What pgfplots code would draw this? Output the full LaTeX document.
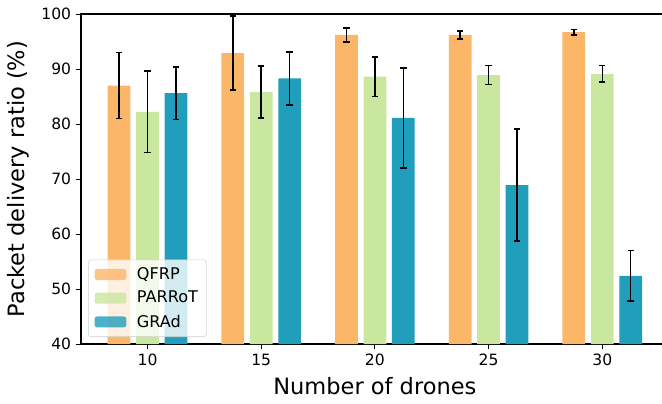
\documentclass[border=0pt]{standalone}
\usepackage{fontspec}
\setmainfont{DejaVu Sans}
\usepackage{pgfplots}
\usepackage{pgfplotstable}
\pgfplotsset{compat=1.18}
\definecolor{cQ}{RGB}{252,182,104}
\definecolor{cP}{RGB}{202,231,159}
\definecolor{cG}{RGB}{33,158,188}
\pgfplotstableread{
x y e
10 87.0 6.0
15 92.9 6.7
20 96.2 1.3
25 96.2 0.7
30 96.7 0.5
}\qfrp
\pgfplotstableread{
x y e
10 82.2 7.4
15 85.8 4.7
20 88.6 3.6
25 88.9 1.7
30 89.1 1.5
}\parrot
\pgfplotstableread{
x y e
10 85.6 4.8
15 88.3 4.8
20 81.1 9.1
25 68.9 10.2
30 52.4 4.6
}\grad
\begin{document}
\begin{tikzpicture}
\begin{axis}[
  scale only axis, width=423.2pt, height=237.6pt,
  xmin=7.075, xmax=32.925, ymin=40, ymax=100,
  xtick={10,15,20,25,30}, ytick={40,50,...,100},
  tick align=outside, xtick pos=left, ytick pos=left,
  major tick length=3.6pt, tick style={line width=0.6pt, black},
  axis line style={line width=0.8pt},
  ticklabel style={font=\fontsize{11.2}{13}\selectfont},
  /pgf/number format/assume math mode=true,
  xlabel={Number of drones}, ylabel={Packet delivery ratio (\%)},
  label style={font=\fontsize{16.2}{19}\selectfont},
  xlabel style={at={(axis description cs:0.5,-0.1545)}, anchor=base},
  ylabel style={at={(axis description cs:-0.0953,0.5)}, anchor=base},
  legend style={at={(axis description cs:0.0119,0.0212)}, anchor=south west,
    draw=black!18, rounded corners=2pt, fill=white, fill opacity=0.8, text opacity=1,
    font=\fontsize{11.6}{13}\selectfont, inner xsep=4.5pt, inner ysep=4pt,
    row sep=4pt, column sep=6pt, nodes={inner sep=1.5pt}},
  legend cell align=left,
  legend image code/.code={\fill[#1] (0pt,-4pt) rectangle (23pt,4pt);},
  error bars/error bar style={line width=1.1pt, black},
  error bars/error mark options={rotate=90, mark size=2.3pt, line width=1.1pt, black},
]
\addplot[ybar, bar width=1, bar shift=0pt, fill=cQ, draw=none,
  error bars/.cd, y dir=both, y explicit]
  table[x expr=\thisrow{x}-1.25, y=y, y error=e] {\qfrp};
\addlegendentry{QFRP}
\addplot[ybar, bar width=1, bar shift=0pt, fill=cP, draw=none,
  error bars/.cd, y dir=both, y explicit]
  table[x=x, y=y, y error=e] {\parrot};
\addlegendentry{PARRoT}
\addplot[ybar, bar width=1, bar shift=0pt, fill=cG, draw=none,
  error bars/.cd, y dir=both, y explicit]
  table[x expr=\thisrow{x}+1.25, y=y, y error=e] {\grad};
\addlegendentry{GRAd}
\end{axis}
\pgfresetboundingbox
\path[use as bounding box] (-58.32pt,-42.48pt) rectangle (418.32pt,247.68pt);
\end{tikzpicture}
\end{document}
